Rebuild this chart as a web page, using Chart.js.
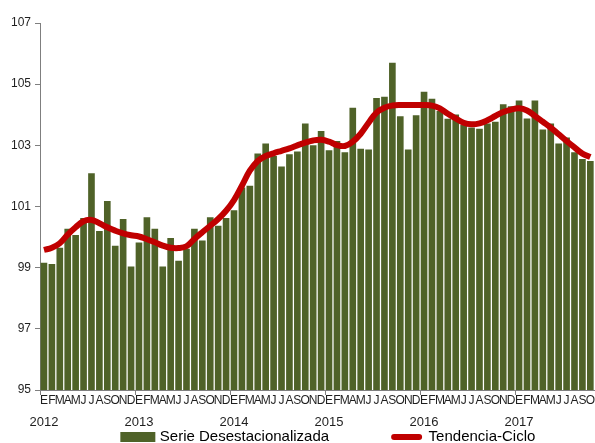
<!DOCTYPE html>
<html>
<head>
<meta charset="utf-8">
<script src="https://cdn.jsdelivr.net/npm/chart.js@4/dist/chart.umd.min.js"></script>
<style>
    html, body { margin: 0; padding: 0; background: #fff; }
    canvas { display: block; }
</style>
</head>
<body>
<canvas id="chart" width="595" height="443"></canvas>
<script>
// month initials (Spanish) and years on the category axis
const monthLetters = ['E', 'F', 'M', 'A', 'M', 'J', 'J', 'A', 'S', 'O', 'N', 'D'];
const years = [2012, 2013, 2014, 2015, 2016, 2017];
const yTicks = [95, 97, 99, 101, 103, 105, 107];

// Jan 2012 .. Oct 2017
const serieDesestacionalizada = [
    99.16, 99.12, 99.65, 100.27, 100.07, 100.62, 102.09, 100.20, 101.18, 99.72, 100.59, 99.04,
    99.82, 100.65, 100.27, 99.04, 99.97, 99.23, 99.62, 100.27, 99.89, 100.65, 100.37, 100.62,
    100.88, 101.62, 101.68, 102.73, 103.06, 102.65, 102.31, 102.71, 102.80, 103.71, 103.00, 103.47,
    102.84, 103.14, 102.77, 104.23, 102.89, 102.86, 104.55, 104.59, 105.70, 103.95, 102.86, 103.98,
    104.75, 104.52, 104.12, 103.87, 104.01, 103.67, 103.58, 103.54, 103.71, 103.77, 104.34, 104.28,
    104.47, 103.88, 104.47, 103.52, 103.71, 103.06, 103.26, 102.77, 102.55, 102.49
];

const tendenciaCiclo = [
    99.58, 99.65, 99.80, 100.08, 100.32, 100.52, 100.56, 100.45, 100.32, 100.21, 100.12, 100.06,
    100.02, 99.93, 99.83, 99.72, 99.65, 99.64, 99.70, 99.94, 100.16, 100.37, 100.59, 100.86,
    101.21, 101.68, 102.17, 102.49, 102.65, 102.74, 102.82, 102.90, 103.00, 103.09, 103.16, 103.18,
    103.12, 103.01, 102.98, 103.12, 103.38, 103.74, 104.07, 104.23, 104.30, 104.32, 104.32, 104.32,
    104.32, 104.30, 104.21, 104.03, 103.88, 103.74, 103.69, 103.72, 103.82, 103.96, 104.09, 104.17,
    104.21, 104.14, 103.96, 103.77, 103.58, 103.36, 103.14, 102.93, 102.73, 102.62
];

const OLIVE = '#4F6228';
const RED = '#C00000';
const AXIS = '#7f7f7f';
const TEXT = '#1f1f1f';
const FONT = "'Liberation Sans', Arial, sans-serif";

const labels = serieDesestacionalizada.map((v, i) => monthLetters[i % 12]);

function legendLabels() {
    return [
        // invisible spacer to push the legend row right
        { text: '           ', fillStyle: 'rgba(0,0,0,0)', strokeStyle: 'rgba(0,0,0,0)', lineWidth: 0 },
        { text: 'Serie Desestacionalizada' + '               ', fillStyle: OLIVE, strokeStyle: OLIVE, lineWidth: 6, datasetIndex: 1 },
        { text: 'Tendencia-Ciclo', fillStyle: RED, strokeStyle: RED, lineWidth: 2, lineJoin: 'round', borderRadius: 2, datasetIndex: 0 }
    ];
}

const ctx = document.getElementById('chart').getContext('2d');
new Chart(ctx, {
    type: 'bar',
    data: {
        labels: labels,
        datasets: [{
            type: 'line',
            label: 'Tendencia-Ciclo',
            data: tendenciaCiclo,
            borderColor: RED,
            backgroundColor: RED,
            borderWidth: 6,
            pointRadius: 0,
            tension: 0.4,
            fill: false,
            order: 0
        }, {
            type: 'bar',
            label: 'Serie Desestacionalizada',
            data: serieDesestacionalizada,
            backgroundColor: OLIVE,
            borderWidth: 0,
            barPercentage: 0.84,
            categoryPercentage: 1.0,
            order: 1
        }]
    },
    options: {
        responsive: false,
        animation: false,
        devicePixelRatio: 1,
        layout: { padding: { top: 23, left: 0, right: 0, bottom: 0 } },
        scales: {
            x: {
                type: 'category',
                offset: true,
                grid: {
                    offset: true,
                    drawOnChartArea: false,
                    drawTicks: true,
                    tickLength: 5,
                    // tick marks only at the start of each year
                    color: (c) => (c.index % 12 === 0 ? AXIS : 'rgba(0,0,0,0)')
                },
                border: { display: true, color: AXIS },
                ticks: {
                    autoSkip: false,
                    maxRotation: 0,
                    minRotation: 0,
                    padding: 0,
                    color: TEXT,
                    font: { family: FONT, size: 12, lineHeight: '12px' }
                }
            },
            x2: {
                type: 'category',
                position: 'bottom',
                offset: true,
                weight: 1,
                grid: {
                    offset: true,
                    drawOnChartArea: false,
                    drawTicks: true,
                    tickLength: 8,
                    color: 'rgba(0,0,0,0)'
                },
                border: { display: false },
                ticks: {
                    autoSkip: false,
                    maxRotation: 0,
                    minRotation: 0,
                    padding: 0,
                    color: TEXT,
                    font: { family: FONT, size: 13, lineHeight: '14px' },
                    callback: (v, i) => (i % 12 === 0 ? String(years[i / 12]) : '')
                }
            },
            y: {
                min: yTicks[0],
                max: yTicks[yTicks.length - 1],
                afterFit: (scale) => { scale.width = 40; },
                grid: { drawOnChartArea: false, drawTicks: true, tickLength: 5, color: AXIS },
                border: { display: true, color: AXIS },
                ticks: {
                    stepSize: yTicks[1] - yTicks[0],
                    padding: 4,
                    color: TEXT,
                    font: { family: FONT, size: 12 }
                }
            }
        },
        plugins: {
            tooltip: { enabled: false },
            legend: {
                position: 'bottom',
                align: 'start',
                fullSize: false,
                maxHeight: 14,
                labels: {
                    padding: 0.5,
                    boxWidth: 29,
                    boxHeight: 4,
                    color: TEXT,
                    font: { family: FONT, size: 15 },
                    generateLabels: legendLabels
                }
            }
        }
    }
});
</script>
</body>
</html>
